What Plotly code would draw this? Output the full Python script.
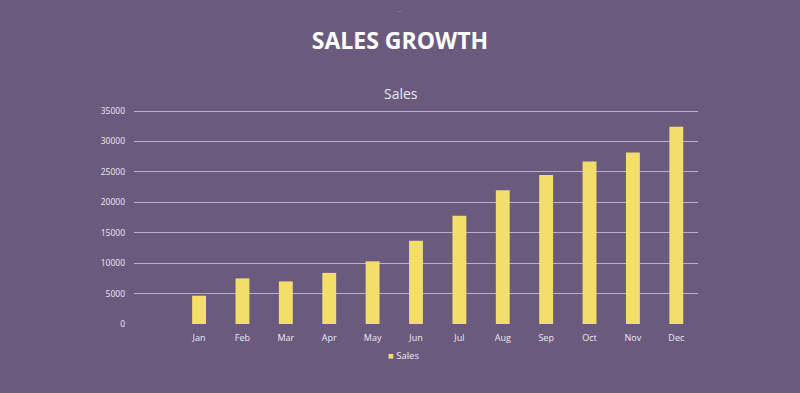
import plotly.graph_objects as go

months = ["Jan", "Feb", "Mar", "Apr", "May", "Jun", "Jul", "Aug", "Sep", "Oct", "Nov", "Dec"]
sales = [4650, 7500, 7000, 8400, 10300, 13700, 17800, 22000, 24500, 26700, 28200, 32400]
y_ticks = [0, 5000, 10000, 15000, 20000, 25000, 30000, 35000]

BG = "#6a5b7e"
BAR = "#f3dd6b"
GRID = "#b8aecb"
TXT = "#ece8f2"
FONT = "Open Sans"

W, H = 800, 393
ML, MR, MT, MB = 134, 102, 108, 69
PW, PH = W - ML - MR, H - MT - MB


def px_x(x):
    return (x - ML) / PW


def px_y(y):
    return (H - MB - y) / PH


fig = go.Figure()
fig.add_trace(go.Bar(
    x=months, y=sales, name="Sales",
    marker=dict(color=BAR, line=dict(width=0)),
    showlegend=False,
))

fig.update_layout(
    width=W, height=H,
    paper_bgcolor=BG, plot_bgcolor=BG,
    margin=dict(l=ML, r=MR, t=MT, b=MB),
    bargap=0.68,
    font=dict(family=FONT, color=TXT, size=9),
    title=dict(text="<b>SALES GROWTH</b>", x=0.5, xref="container", xanchor="center",
               y=1 - 41 / H, yref="container", yanchor="middle",
               font=dict(family=FONT, size=23, color="#ffffff")),
    xaxis=dict(type="category", range=[-1.5, 11.5], showgrid=False, zeroline=False,
               showline=False, ticks="", ticklabelstandoff=7,
               tickfont=dict(size=9, color=TXT)),
    yaxis=dict(range=[0, 35500], tickvals=y_ticks, ticktext=[str(v) for v in y_ticks],
               showgrid=True, gridcolor=GRID, gridwidth=1, zeroline=False,
               showline=False, ticks="", ticklabelstandoff=8,
               tickfont=dict(size=8.5, color=TXT)),
    showlegend=False,
    annotations=[
        dict(text="Sales", xref="paper", yref="paper",
             x=px_x(401), y=px_y(93),
             xanchor="center", yanchor="middle", showarrow=False,
             font=dict(family=FONT, size=14, color=TXT)),
        dict(text="–", xref="paper", yref="paper",
             x=px_x(400), y=px_y(11),
             xanchor="center", yanchor="middle", showarrow=False,
             font=dict(family=FONT, size=7, color="#a89cbc")),
        dict(text=f"<span style='color:{BAR}'>■</span> Sales", xref="paper", yref="paper",
             x=px_x(403), y=px_y(355),
             xanchor="center", yanchor="middle", showarrow=False,
             font=dict(family=FONT, size=9.5, color=TXT)),
    ],
)

fig.write_html("out.html", config={"displayModeBar": False},
               post_script="document.body.style.margin='0';")
